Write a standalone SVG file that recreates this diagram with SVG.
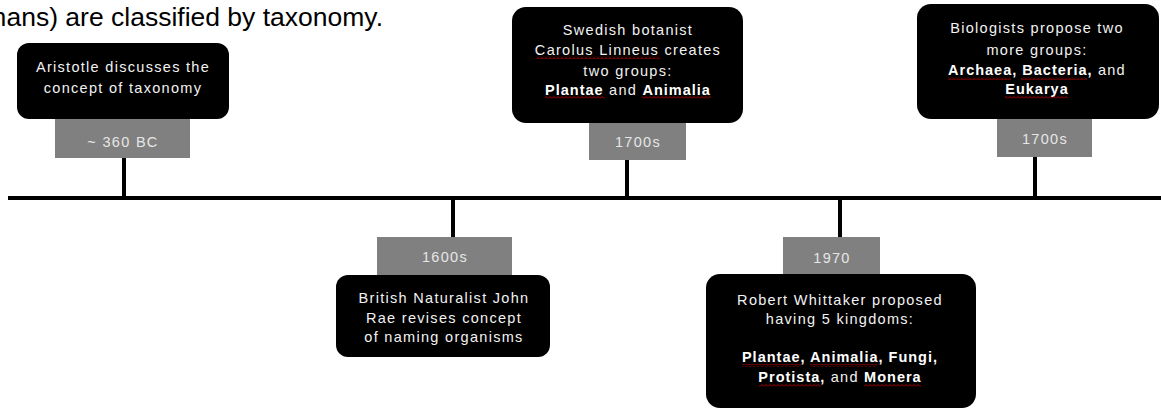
<svg xmlns="http://www.w3.org/2000/svg" width="1161" height="411" viewBox="0 0 1161 411">
<defs>
<pattern id="wave" patternUnits="userSpaceOnUse" x="0" y="0" width="4" height="3">
<polyline points="0,2.5 2,0.5 4,2.5" fill="none" stroke="#d00000" stroke-width="0.9"/>
</pattern>
</defs>
<style>
.box{fill:#000;}
.lbl{fill:#808080;}
.t{font-family:"Liberation Sans",Arial,sans-serif;font-size:14.5px;letter-spacing:1.3px;fill:#f2f2f2;text-anchor:middle;}
.lt{font-family:"Liberation Sans",Arial,sans-serif;font-size:14.5px;letter-spacing:1.3px;fill:#e6e6e6;text-anchor:middle;}
.b{font-weight:bold;fill:#fff;letter-spacing:1px;}
.sq{fill:url(#wave);}
.hdr{font-family:"Liberation Sans",Arial,sans-serif;font-size:26.5px;fill:#000;text-anchor:end;}
.stem{stroke:#000;stroke-width:4;}
</style>
<text class="hdr" x="383" y="26">mans) are classified by taxonomy.</text>
<g id="connectors">
<line class="stem" x1="8" y1="198" x2="1161" y2="198"/>
<line class="stem" x1="124" y1="158" x2="124" y2="198"/>
<line class="stem" x1="627" y1="160" x2="627" y2="198"/>
<line class="stem" x1="1035" y1="157" x2="1035" y2="198"/>
<line class="stem" x1="453" y1="198" x2="453" y2="237"/>
<line class="stem" x1="840" y1="198" x2="840" y2="237"/>
</g>
<g id="node-360bc">
<rect class="box" x="17" y="43" width="212" height="76" rx="12"/>
<text class="t" x="123" y="72">Aristotle discusses the</text>
<text class="t" x="123" y="93">concept of taxonomy</text>
<rect class="lbl" x="55" y="119" width="135" height="39"/>
<text class="lt" x="123" y="147">~ 360 BC</text>
</g>
<g id="node-1700s-linneus">
<rect class="box" x="512" y="7" width="231" height="116" rx="14"/>
<text class="t" x="628" y="35">Swedish botanist</text>
<text class="t" x="628" y="55">Carolus Linneus creates</text>
<text class="t" x="628" y="76">two groups:</text>
<text class="t" x="628" y="95"><tspan class="b">Plantae</tspan> and <tspan class="b">Animalia</tspan></text>
<rect class="sq" x="536" y="56" width="124" height="3"/>
<rect class="sq" x="545" y="96" width="60" height="3"/>
<rect class="sq" x="642" y="96" width="69" height="3"/>
<rect class="lbl" x="589" y="123" width="97" height="37"/>
<text class="lt" x="638" y="147">1700s</text>
</g>
<g id="node-1700s-biologists">
<rect class="box" x="917" y="4" width="242" height="115" rx="14"/>
<text class="t" x="1037" y="33">Biologists propose two</text>
<text class="t" x="1037" y="55">more groups:</text>
<text class="t" x="1037" y="75"><tspan class="b">Archaea, Bacteria,</tspan> and</text>
<text class="t" x="1037" y="94"><tspan class="b">Eukarya</tspan></text>
<rect class="sq" x="948" y="77" width="63" height="3"/>
<rect class="sq" x="1021" y="77" width="66" height="3"/>
<rect class="sq" x="1005" y="96" width="63" height="3"/>
<rect class="lbl" x="997" y="119" width="95" height="38"/>
<text class="lt" x="1045" y="144">1700s</text>
</g>
<g id="node-1600s">
<rect class="lbl" x="377" y="237" width="135" height="38"/>
<text class="lt" x="445" y="262">1600s</text>
<rect class="box" x="336" y="275" width="214" height="82" rx="12"/>
<text class="t" x="444" y="303">British Naturalist John</text>
<text class="t" x="444" y="323">Rae revises concept</text>
<text class="t" x="444" y="342">of naming organisms</text>
</g>
<g id="node-1970">
<rect class="lbl" x="783" y="237" width="97" height="37"/>
<text class="lt" x="832" y="263">1970</text>
<rect class="box" x="706" y="274" width="270" height="134" rx="14"/>
<text class="t" x="840" y="305">Robert Whittaker proposed</text>
<text class="t" x="840" y="324">having 5 kingdoms:</text>
<text class="t" x="840" y="362"><tspan class="b">Plantae, Animalia, Fungi,</tspan></text>
<text class="t" x="840" y="382"><tspan class="b">Protista,</tspan> and <tspan class="b">Monera</tspan></text>
<rect class="sq" x="742" y="364" width="59" height="3"/>
<rect class="sq" x="810" y="364" width="67" height="3"/>
<rect class="sq" x="759" y="384" width="62" height="3"/>
<rect class="sq" x="864" y="384" width="57" height="3"/>
</g>
</svg>
